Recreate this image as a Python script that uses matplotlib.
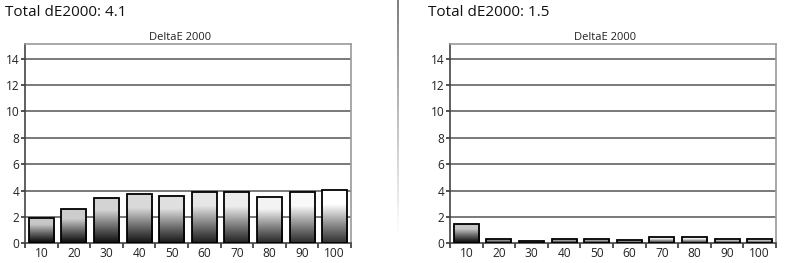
import numpy as np
import matplotlib
matplotlib.use("Agg")
import matplotlib.pyplot as plt
from matplotlib.patches import Rectangle
from matplotlib.collections import LineCollection

categories = ["10", "20", "30", "40", "50", "60", "70", "80", "90", "100"]
values_left = [1.95, 2.57, 3.45, 3.7, 3.6, 3.9, 3.85, 3.5, 3.9, 4.06]
values_right = [1.5, 0.33, 0.15, 0.33, 0.33, 0.26, 0.45, 0.45, 0.33, 0.33]
title_left = "Total dE2000: 4.1"
title_right = "Total dE2000: 1.5"
chart_title = "DeltaE 2000"
yticks = [0, 2, 4, 6, 8, 10, 12, 14]

plt.rcParams['font.family'] = ['Open Sans', 'DejaVu Sans']

W, H = 792, 263
fig = plt.figure(figsize=(W / 100, H / 100), dpi=100)

def px(x, y):
    return x / W, 1 - y / H

def draw_panel(left_px, values, title, title_x):
    l, b = left_px / W, 1 - 243.3 / H
    w, h = 326 / W, (243.3 - 44) / H
    ax = fig.add_axes([l, b, w, h])
    n = len(values)
    for v in yticks[1:]:
        ax.axhline(v, color="#6e6e6e", lw=1.3, zorder=1)
    width = 0.77
    for i, v in enumerate(values):
        x0 = i + (1 - width) / 2
        top_c = 0.78 + 0.22 * i / (n - 1)
        bot_c = 0.03 + 0.17 * i / (n - 1)
        s = np.linspace(0, 1, 100)
        g = bot_c + (top_c - bot_c) * np.clip(s / 0.72, 0, 1) ** 1.1
        img = np.repeat(g[:, None], 2, axis=1)
        rect = Rectangle((x0, 0), width, v, facecolor="none", edgecolor="black",
                         lw=1.3, zorder=4)
        ax.add_patch(rect)
        im = ax.imshow(img, cmap="gray", vmin=0, vmax=1, origin="lower",
                       extent=(x0, x0 + width, 0, v), aspect="auto",
                       interpolation="bilinear", zorder=3)
        im.set_clip_path(rect)
    ax.set_xlim(0, n)
    ax.set_ylim(0, 15.1)
    ax.set_xticks(np.arange(n) + 0.5)
    ax.set_xticklabels(categories, fontsize=8.6, color="#222222")
    ax.set_xticks(np.arange(n + 1), minor=True)
    ax.tick_params(axis="x", which="major", length=0, pad=2.5)
    ax.tick_params(axis="x", which="minor", length=3.5, width=1.2, color="#333333",
                   direction="out")
    ax.set_yticks(yticks)
    ax.set_yticklabels([str(t) for t in yticks], fontsize=8.6, color="#222222")
    ax.tick_params(axis="y", length=3, width=1.2, color="#333333", pad=1)
    for sname, sp in ax.spines.items():
        sp.set_color("#9a9a9a")
        sp.set_linewidth(1.2)
    ax.spines["bottom"].set_color("#444444")
    ax.spines["left"].set_color("#444444")
    ax.set_facecolor("white")
    cx = (left_px + 163 - 8) / W
    fig.text(cx, 1 - 39.5 / H, chart_title, ha="center", va="baseline",
             fontsize=8.0, color="#222222")
    fig.text(title_x / W, 1 - 15.5 / H, title, ha="left", va="baseline",
             fontsize=11.0, color="#111111")
    return ax

draw_panel(25, values_left, title_left, 5)
draw_panel(450, values_right, title_right, 428)

# separator line fading downwards
ys = np.linspace(0, 232, 60)
segs = [[px(397.7, ys[k]), px(397.7, ys[k + 1])] for k in range(len(ys) - 1)]
cols = [(1 - 0.6 * (1 - k / len(segs)),) * 3 for k in range(len(segs))]
lc = LineCollection(segs, colors=cols, linewidths=1.2, transform=fig.transFigure)
fig.add_artist(lc)

fig.savefig("out.png", dpi=100, facecolor="white")
